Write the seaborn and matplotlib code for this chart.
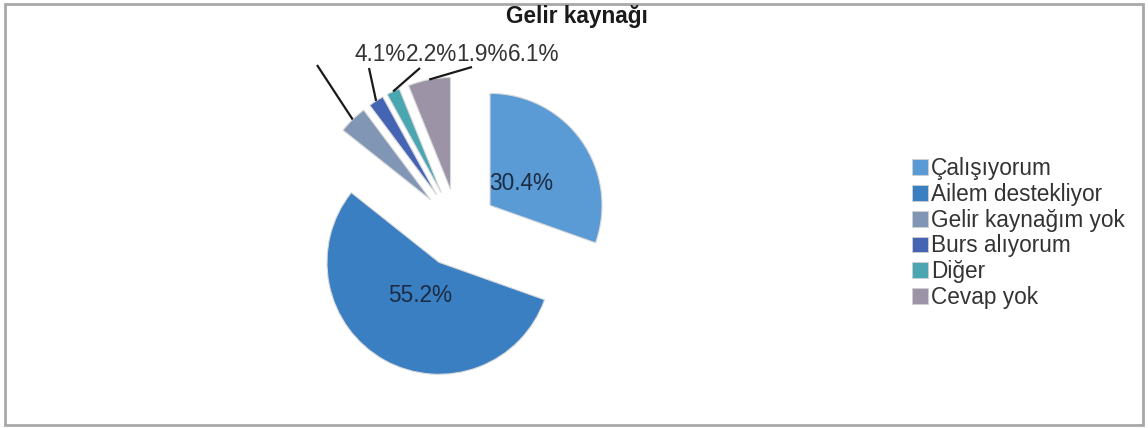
import numpy as np
import matplotlib
matplotlib.use("Agg")
import matplotlib.pyplot as plt
import seaborn as sns
from matplotlib.patches import Rectangle, Patch

sns.set_theme(style="white")
plt.rcParams["font.family"] = ["Liberation Sans", "DejaVu Sans"]

# data
categories = ["Çalışıyorum", "Ailem destekliyor", "Gelir kaynağım yok",
              "Burs alıyorum", "Diğer", "Cevap yok"]
shares = [30.4, 55.2, 4.1, 2.2, 1.9, 6.1]
colors = ["#5b9bd5", "#3a7fc2", "#8196b4", "#4565b4", "#4aa6b0", "#9c93a6"]

W, H = 1148, 428
PX = 112.0                # pie radius in pixels
CX, CY = 458, 228          # pie centre in pixels (from top-left)
FS = 16.3

fig = plt.figure(figsize=(W / 100, H / 100), dpi=100)
ax = fig.add_axes([0, 0, 1, 1])

wedges, _ = ax.pie(
    shares, colors=colors, startangle=90, counterclock=False,
    explode=[0.35] * len(shares),
    wedgeprops=dict(edgecolor="#d9d9d9", linewidth=0.8))

ax.set_xlim(-CX / PX, (W - CX) / PX)
ax.set_ylim(-(H - CY) / PX, CY / PX)
ax.set_aspect("equal")
ax.axis("off")

def to_data(px, py):
    return (px - CX) / PX, (CY - py) / PX

# big slices: labels inside the wedge
for i in range(2):
    w = wedges[i]
    mid = np.deg2rad((w.theta1 + w.theta2) / 2)
    ax.text(w.center[0] + 0.34 * w.r * np.cos(mid),
            w.center[1] + 0.34 * w.r * np.sin(mid),
            f"{shares[i]:.1f}%", ha="center", va="center",
            fontsize=FS, color="#1c2b44")

# small slices: labels in a row above the pie, joined by leader lines
line_ends = [(317, 65), (369, 68), (420, 68), (472, 67)]
label_x = [380, 431, 482, 534]
label_y = 55
for k, i in enumerate(range(2, 6)):
    w = wedges[i]
    mid = np.deg2rad((w.theta1 + w.theta2) / 2)
    sx = w.center[0] + w.r * np.cos(mid)
    sy = w.center[1] + w.r * np.sin(mid)
    ex, ey = to_data(*line_ends[k])
    ax.plot([sx, ex], [sy, ey], color="#1a1a1a", lw=1.6, solid_capstyle="butt")
    tx, ty = to_data(label_x[k], label_y)
    ax.text(tx, ty, f"{shares[i]:.1f}%", ha="center", va="center",
            fontsize=FS, color="#333333")

fig.text(577 / W, 1 - 17 / H, "Gelir kaynağı", ha="center", va="center",
         fontsize=FS, fontweight="bold", color="#1a1a1a")

handles = [Patch(facecolor=c, edgecolor="#d0d0d0", linewidth=0.6) for c in colors]
fig.legend(handles, categories, loc="center left",
           bbox_to_anchor=(912 / W, 1 - 233 / H), frameon=False,
           fontsize=FS, handlelength=0.7, handleheight=0.7,
           handletextpad=0.15, labelspacing=0.12, borderpad=0,
           borderaxespad=0, labelcolor="#333333")

fig.patches.append(Rectangle((5 / W, 3 / H), 1138 / W, 421 / H,
                             transform=fig.transFigure, fill=False,
                             edgecolor="#a8a8a8", linewidth=2))

fig.savefig("out.png", dpi=100)
